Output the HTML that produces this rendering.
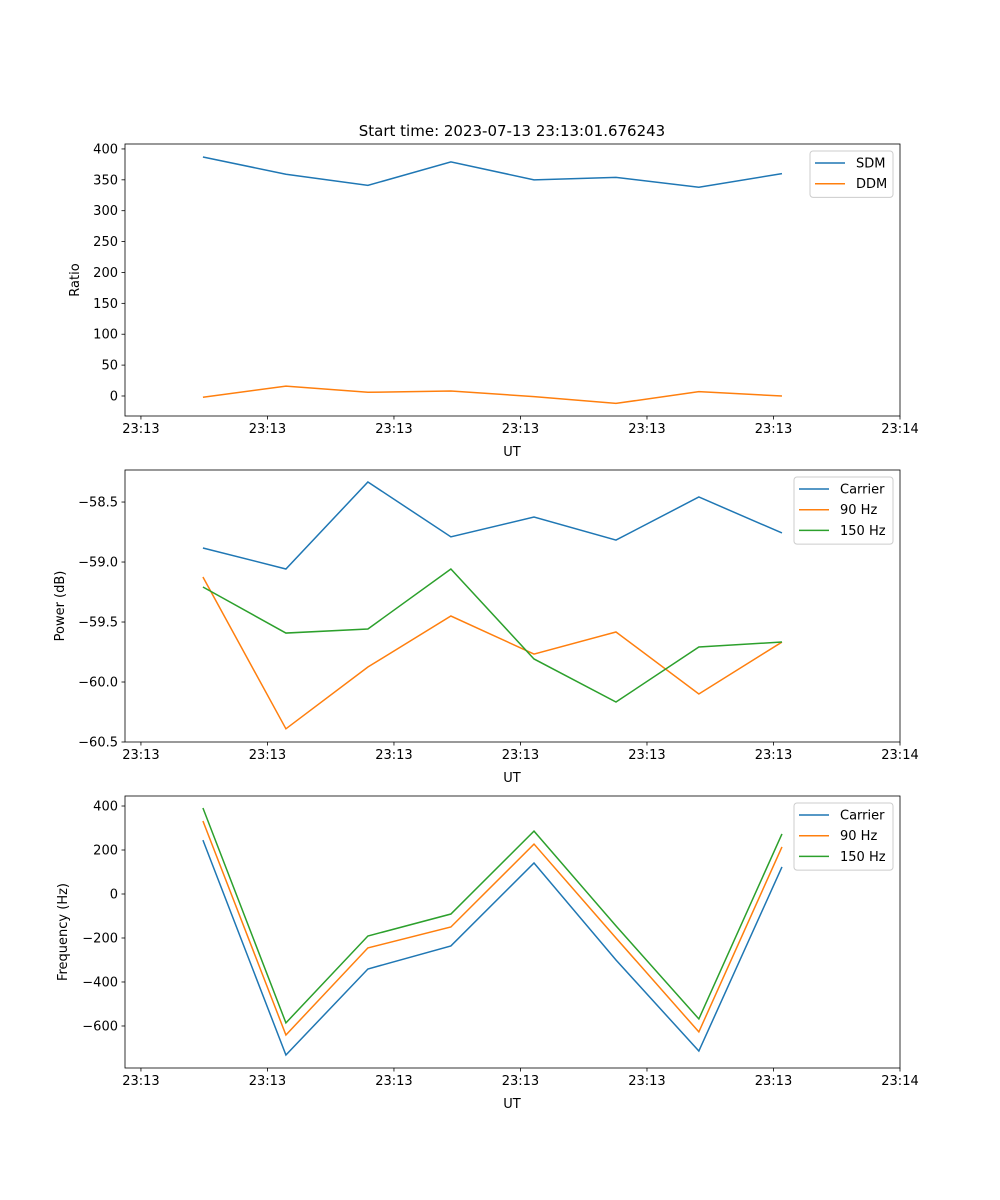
<!DOCTYPE html>
<html><head><meta charset="utf-8"><style>
body{margin:0;background:#fff}
svg{display:block;font-family:"DejaVu Sans","Liberation Sans",sans-serif}
</style></head><body>
<svg id="c" width="1000" height="1200" xmlns="http://www.w3.org/2000/svg">
<rect width="1000" height="1200" fill="#fff"/>
<text x="512" y="136" font-size="15" text-anchor="middle">Start time: 2023-07-13 23:13:01.676243</text>
</svg>
<script>
const xTimes=[4.9,11.46,17.94,24.5,31.07,37.55,44.1,50.67];
const xTickVals=[0,10,20,30,40,50,60];
const xTickLabels=["23:13","23:13","23:13","23:13","23:13","23:13","23:14"];
const sdm=[387,359,341,379,350,354,338,360];
const ddm=[-2,16,6,8,-1,-12,7,0];
const pCarrier=[-58.883,-59.058,-58.333,-58.79,-58.625,-58.817,-58.458,-58.758];
const p90=[-59.125,-60.39,-59.875,-59.45,-59.767,-59.583,-60.1,-59.667];
const p150=[-59.208,-59.592,-59.558,-59.058,-59.808,-60.167,-59.708,-59.667];
const fCarrier=[245,-732,-341,-236,141,-300,-714,123];
const f90=[332,-641,-245,-150,227,-200,-627,214];
const f150=[391,-586,-191,-91,286,-145,-568,273];
const ticks1=[0,50,100,150,200,250,300,350,400];
const ticks2=[-60.5,-60.0,-59.5,-59.0,-58.5];
const ticks3=[-600,-400,-200,0,200,400];
const C=['#1f77b4','#ff7f0e','#2ca02c'];
const svg=document.getElementById('c');
const NS='http://www.w3.org/2000/svg';
function mk(t,a,p){const e=document.createElementNS(NS,t);for(const k in a)e.setAttribute(k,a[k]);(p||svg).appendChild(e);return e;}
const L=125,R=900,xmin=-1.26,xmax=60;
const xs=v=>L+(v-xmin)/(xmax-xmin)*(R-L);
function panel(top,bot,ymin,ymax,ticks,fmt,ylabel,series,names,pname,legW){
 const g=mk('g',{});
 
 
 const ys=v=>bot-(v-ymin)/(ymax-ymin)*(bot-top);
 series.forEach((s,i)=>{
  const pl=mk('polyline',{points:s.map((v,j)=>xs(xTimes[j])+','+ys(v)).join(' '),fill:'none',stroke:C[i],'stroke-width':1.5},g);
  
  
 });
 mk('rect',{x:L,y:top,width:R-L,height:bot-top,fill:'none',stroke:'#000','stroke-width':0.8},g);
 xTickVals.forEach((v,i)=>{const x=xs(v);mk('line',{x1:x,x2:x,y1:bot,y2:bot+3.5,stroke:'#000','stroke-width':0.8},g);
  const t=mk('text',{x:x,y:bot+17,'font-size':13,'text-anchor':'middle'},g);t.textContent=xTickLabels[i];
  });
 const xl=mk('text',{x:512,y:bot+40,'font-size':13,'text-anchor':'middle'},g);xl.textContent='UT';
 
 ticks.forEach(v=>{const y=ys(v);mk('line',{x1:L-3.5,x2:L,y1:y,y2:y,stroke:'#000','stroke-width':0.8},g);
  const t=mk('text',{x:L-7,y:y+4.5,'font-size':13,'text-anchor':'end'},g);t.textContent=fmt(v);
  });
 const cy=(top+bot)/2, cx=ylabel==='Ratio'?79:ylabel==='Power (dB)'?64:67;
 const yl=mk('text',{x:cx,y:cy,'font-size':13,'text-anchor':'middle',transform:`rotate(-90 ${cx} ${cy})`},g);yl.textContent=ylabel;
 
 const lg=mk('g',{},g);
 
 const lx=893-legW, ly=top+7;
 mk('rect',{x:lx,y:ly,width:legW,height:names.length*20.7+5,rx:3,fill:'#fff',stroke:'#ccc','stroke-width':1,'fill-opacity':0.8},lg);
 names.forEach((n,i)=>{const y=ly+12+i*20.7;
  mk('line',{x1:lx+5,x2:lx+35,y1:y,y2:y,stroke:C[i],'stroke-width':1.5},lg);
  const t=mk('text',{x:lx+46,y:y+4.5,'font-size':13},lg);t.textContent=n;
  });
}
panel(144,416,-32.4,408,ticks1,v=>String(v),'Ratio',[sdm,ddm],['SDM','DDM'],'ratio-panel',83);
panel(470,742,-60.5,-58.233,ticks2,v=>(v<0?'\u2212':'')+Math.abs(v).toFixed(1),'Power (dB)',[pCarrier,p90,p150],['Carrier','90 Hz','150 Hz'],'power-panel',99);
panel(796,1068,-791,445.5,ticks3,v=>(v<0?'\u2212':'')+Math.abs(v),'Frequency (Hz)',[fCarrier,f90,f150],['Carrier','90 Hz','150 Hz'],'frequency-panel',99);
</script>
</body></html>
